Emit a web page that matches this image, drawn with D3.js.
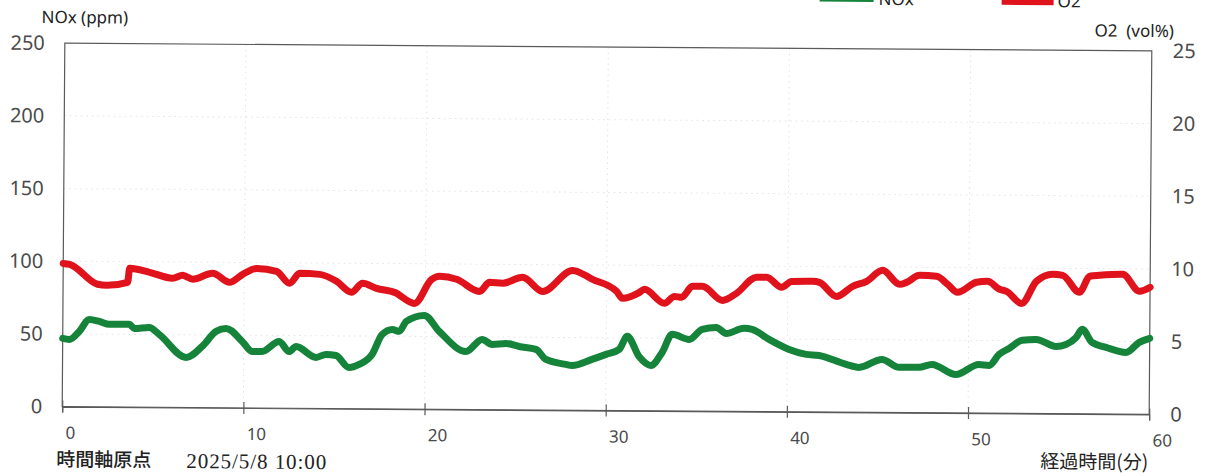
<!DOCTYPE html>
<html>
<head>
<meta charset="utf-8">
<script src="https://cdn.jsdelivr.net/npm/d3@7"></script>
<style>
  html, body { margin: 0; padding: 0; background: #ffffff; }
  svg { display: block; }
</style>
</head>
<body>
<svg id="chart" width="1206" height="476"></svg>
<script>
// Elapsed time (minutes) and NOx concentration (ppm)
const noxMin = [0, 0.36, 0.91, 1.46, 2.01, 2.57, 3.67, 3.95, 4.77, 5.33, 6.82, 7.7, 8.47, 9.02, 9.91,
  10.46, 11.01, 11.95, 12.5, 12.89, 13.99, 14.54, 15.09, 15.81, 16.37, 17.08, 17.63, 18.19, 18.57, 18.96,
  19.95, 20.78, 22.27, 23.15, 23.7, 24.48, 25.2, 26.13, 26.68, 27.79, 28.12, 29.22, 30.0, 30.72, 31.16,
  31.82, 32.48, 33.09, 33.64, 34.58, 35.29, 36.07, 36.62, 37.61, 38.05, 38.99, 40.1, 41.04, 41.75, 43.25,
  43.96, 45.23, 46.17, 47.27, 47.99, 49.31, 50.58, 51.14, 51.69, 52.24, 52.96, 53.73, 54.83, 55.38, 55.94,
  56.27, 56.82, 57.59, 58.7, 59.42, 60];
const noxPpm = [46.9, 46.2, 51.8, 60.1, 58.8, 56.8, 56.9, 54.1, 54.9, 50.1, 34.4, 42.1, 52.5, 54.6, 45.7,
  38.9, 38.9, 45.9, 39.0, 42.5, 35.1, 37.2, 36.5, 28.3, 30.5, 37.4, 51.2, 54.7, 53.4, 60.3,
  64.5, 53.6, 39.9, 48.3, 44.9, 45.6, 43.6, 41.7, 34.8, 31.5, 30.8, 35.1, 38.6, 42.1, 51.1,
  37.3, 31.2, 40.2, 52.7, 49.3, 56.3, 57.7, 53.6, 57.2, 56.5, 49.7, 42.9, 39.6, 38.9, 32.9,
  30.9, 36.5, 31.1, 31.2, 33.3, 26.5, 33.5, 32.9, 40.5, 44.7, 50.3, 51.0, 46.3, 47.7, 52.6,
  58.2, 49.2, 45.9, 42.5, 49.5, 52.3];

// Elapsed time (minutes) and O2 concentration (vol%)
const o2Min = [0, 0.36, 1.9, 2.4, 3.56, 3.67, 4.77, 6.04, 6.6, 7.15, 8.25, 9.19, 9.91, 10.68, 11.78,
  12.5, 13.05, 14.16, 15.09, 15.92, 16.53, 17.3, 18.3, 19.4, 20.34, 20.78, 21.72, 22.99, 23.54, 24.26,
  25.36, 26.47, 28.12, 29.22, 30.55, 30.88, 31.82, 32.09, 33.2, 33.75, 34.14, 34.74, 35.29, 36.4, 37.17,
  38.27, 38.83, 39.66, 40.21, 41.37, 41.75, 42.69, 43.58, 44.35, 45.23, 46.17, 46.55, 47.27, 48.21, 48.82,
  49.37, 50.42, 51.03, 51.69, 52.08, 52.91, 53.73, 54.62, 55.17, 56.1, 56.66, 57.21, 58.48, 59.42, 60];
const o2Pct = [9.85, 9.79, 8.43, 8.36, 8.58, 9.54, 9.28, 8.88, 9.09, 8.82, 9.24, 8.63, 9.19, 9.6, 9.41,
  8.59, 9.28, 9.22, 8.75, 8.0, 8.63, 8.29, 8.02, 7.27, 8.93, 9.15, 8.95, 8.13, 8.76, 8.7,
  9.12, 8.16, 9.62, 9.01, 8.2, 7.72, 8.14, 8.35, 7.4, 7.88, 7.82, 8.58, 8.59, 7.63, 8.12,
  9.24, 9.24, 8.56, 8.97, 8.99, 8.92, 7.96, 8.66, 9.01, 9.78, 8.82, 8.96, 9.45, 9.39, 8.85,
  8.3, 9.0, 9.07, 8.53, 8.39, 7.57, 9.1, 9.59, 9.52, 8.36, 9.47, 9.54, 9.62, 8.46, 8.74];

// Axis ticks
const timeTicks = [0, 10, 20, 30, 40, 50, 60];
const noxTicks = [0, 50, 100, 150, 200, 250];
const o2Ticks = [0, 5, 10, 15, 20, 25];

const NOX_COLOR = "#15843a";
const O2_COLOR = "#e0131d";
const AXIS_COLOR = "#5a5a5a";
const TEXT_COLOR = "#4a4a4a";
const SANS = "'Noto Sans', 'Noto Sans CJK JP', sans-serif";
const CJK = "'Noto Sans CJK JP', sans-serif";

const svg = d3.select("#chart");
svg.append("rect").attr("width", 1206).attr("height", 476).attr("fill", "#ffffff");

// The whole sheet sits at a slight tilt
const g = svg.append("g").attr("transform", "rotate(0.41 607 229)");

const plot = { left: 63.5, right: 1150.5, top: 47, bottom: 410.5 };

const x = d3.scaleLinear().domain([0, 60]).range([plot.left, plot.right]);
const yNox = d3.scaleLinear().domain([0, 250]).range([plot.bottom, plot.top]);
const yO2 = d3.scaleLinear().domain([0, 25]).range([plot.bottom, plot.top]);

// Faint dotted grid
const grid = g.append("g").attr("stroke", "#e2e2e2").attr("stroke-width", 1)
  .attr("stroke-dasharray", "1.5,4").attr("fill", "none");
grid.selectAll("line.v").data(timeTicks.slice(1, -1)).join("line")
  .attr("x1", d => x(d)).attr("x2", d => x(d))
  .attr("y1", plot.top).attr("y2", plot.bottom);
grid.selectAll("line.h").data(noxTicks.slice(1, -1)).join("line")
  .attr("x1", plot.left).attr("x2", plot.right)
  .attr("y1", d => yNox(d)).attr("y2", d => yNox(d));

// Plot frame
g.append("rect")
  .attr("x", plot.left).attr("y", plot.top)
  .attr("width", plot.right - plot.left).attr("height", plot.bottom - plot.top)
  .attr("fill", "none").attr("stroke", AXIS_COLOR).attr("stroke-width", 1.2);

// Bottom axis: ticks cross the axis line
const xAxis = g.append("g")
  .attr("transform", `translate(0,${plot.bottom})`)
  .call(d3.axisBottom(x).tickValues(timeTicks).tickSize(6).tickPadding(14));
xAxis.select(".domain").attr("stroke", AXIS_COLOR).attr("stroke-width", 1.2);
xAxis.selectAll(".tick line").attr("y1", -6).attr("y2", 6)
  .attr("stroke", AXIS_COLOR).attr("stroke-width", 1.2);
xAxis.selectAll(".tick text")
  .attr("text-anchor", "start").attr("x", 3).attr("y", 20)
  .attr("font-family", SANS).attr("font-size", 17).attr("fill", TEXT_COLOR);

// Left axis (NOx)
const yAxisL = g.append("g")
  .attr("transform", `translate(${plot.left},0)`)
  .call(d3.axisLeft(yNox).tickValues(noxTicks).tickSize(0).tickPadding(20));
yAxisL.select(".domain").remove();
yAxisL.selectAll(".tick text")
  .attr("font-family", SANS).attr("font-size", 20).attr("fill", TEXT_COLOR);

// Right axis (O2)
const yAxisR = g.append("g")
  .attr("transform", `translate(${plot.right},0)`)
  .call(d3.axisRight(yO2).tickValues(o2Ticks).tickSize(0).tickPadding(21));
yAxisR.select(".domain").remove();
yAxisR.selectAll(".tick text")
  .attr("font-family", SANS).attr("font-size", 20).attr("fill", TEXT_COLOR);

// Axis titles
g.append("text").attr("x", 40).attr("y", 27)
  .attr("font-family", SANS).attr("font-size", 17).attr("fill", "#222")
  .text("NOx (ppm)");
g.append("text").attr("x", 1093).attr("y", 33)
  .attr("font-family", SANS).attr("font-size", 17).attr("fill", "#222")
  .text("O2\u00a0 (vol%)");
g.append("text").attr("x", 1042).attr("y", 465)
  .attr("font-family", CJK).attr("font-size", 19).attr("fill", "#222")
  .text("経過時間(分)");
g.append("text").attr("x", 58).attr("y", 470)
  .attr("font-family", CJK).attr("font-size", 19).attr("font-weight", 500).attr("fill", "#222")
  .text("時間軸原点");
g.append("text").attr("x", 188).attr("y", 471)
  .attr("font-family", "'Liberation Serif', serif").attr("font-size", 21).attr("fill", "#222")
  .attr("textLength", 140).attr("lengthAdjust", "spacing")
  .text("2025/5/8 10:00");

// Legend (runs off the top edge)
g.append("line").attr("x1", 818).attr("x2", 872).attr("y1", -3).attr("y2", -3)
  .attr("stroke", NOX_COLOR).attr("stroke-width", 6);
g.append("text").attr("x", 877).attr("y", 3)
  .attr("font-family", SANS).attr("font-size", 17).attr("fill", "#222").text("NOx");
g.append("line").attr("x1", 1000).attr("x2", 1052).attr("y1", -2).attr("y2", -2)
  .attr("stroke", O2_COLOR).attr("stroke-width", 8);
g.append("text").attr("x", 1056).attr("y", 4)
  .attr("font-family", SANS).attr("font-size", 17).attr("fill", "#222").text("O2");

// Series lines
const noxLine = d3.line().x((d, i) => x(noxMin[i])).y(d => yNox(d)).curve(d3.curveMonotoneX);
const o2Line = d3.line().x((d, i) => x(o2Min[i])).y(d => yO2(d)).curve(d3.curveMonotoneX);

g.append("path").datum(o2Pct).attr("d", o2Line)
  .attr("fill", "none").attr("stroke", O2_COLOR).attr("stroke-width", 7)
  .attr("stroke-linejoin", "round").attr("stroke-linecap", "round");
g.append("path").datum(noxPpm).attr("d", noxLine)
  .attr("fill", "none").attr("stroke", NOX_COLOR).attr("stroke-width", 7)
  .attr("stroke-linejoin", "round").attr("stroke-linecap", "round");
</script>
</body>
</html>
